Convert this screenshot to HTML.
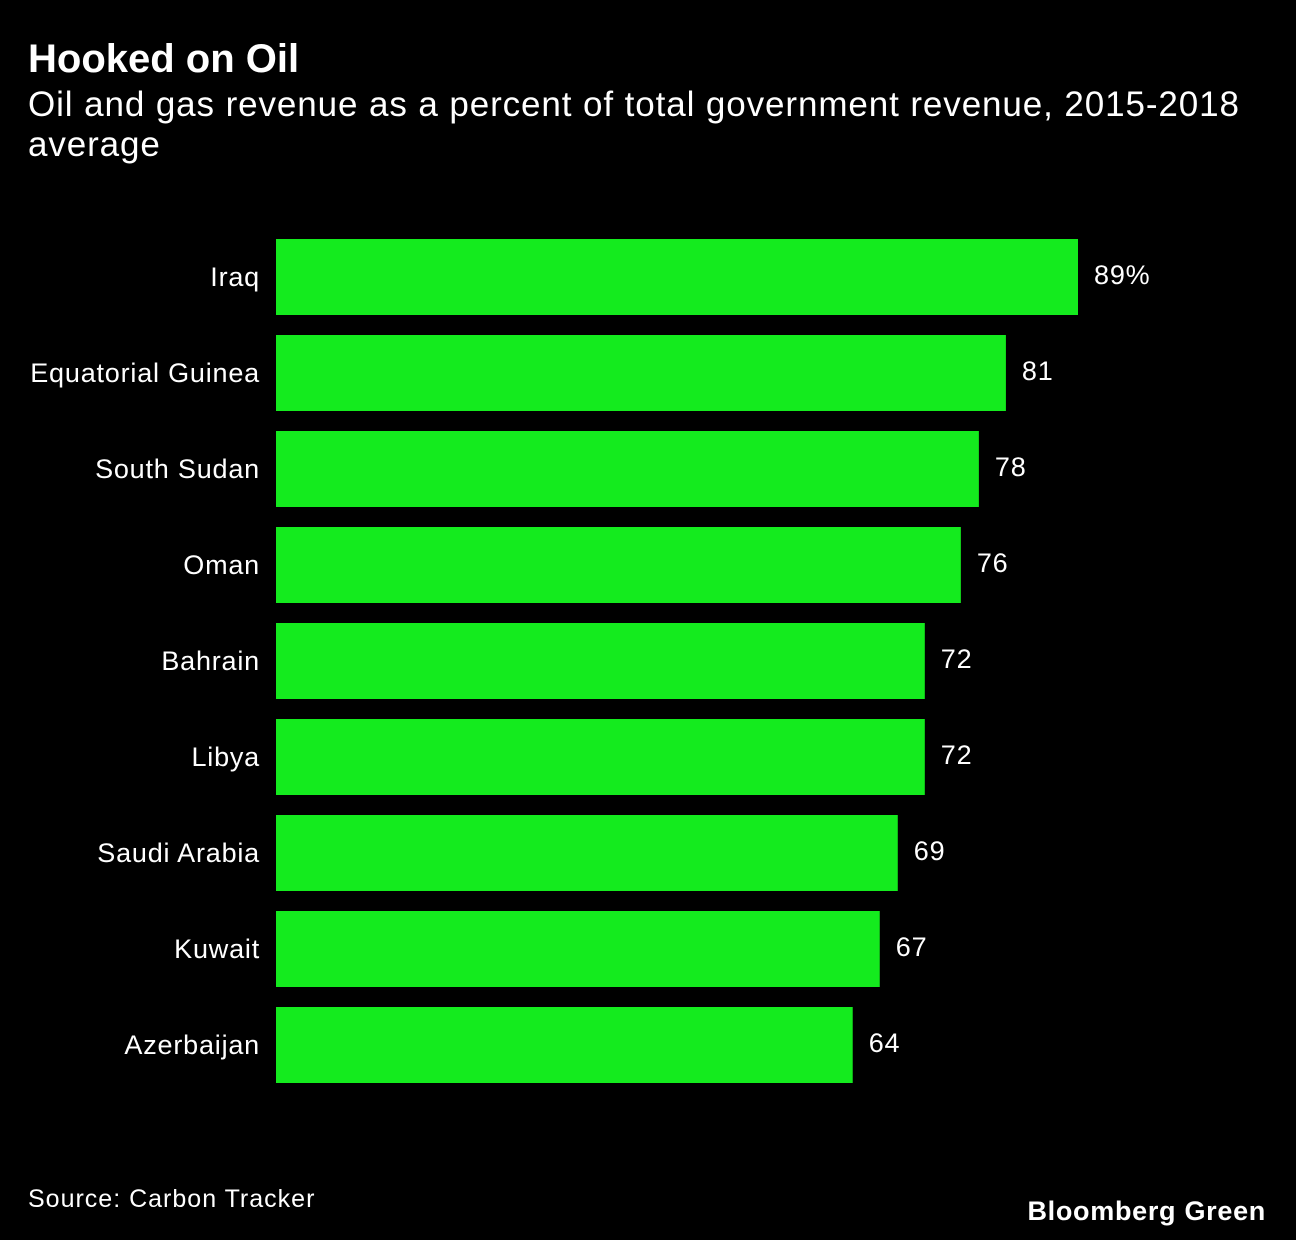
<!DOCTYPE html>
<html><head><meta charset="utf-8">
<style>
html,body{margin:0;padding:0;background:#000;}
body{width:1296px;height:1240px;position:relative;overflow:hidden;font-family:"Liberation Sans",sans-serif;color:#fff;}
.t{position:absolute;white-space:nowrap;}
</style></head><body>
<div class="t" style="left:28px;top:37px;font-size:40px;font-weight:bold;letter-spacing:0px">Hooked on Oil</div>
<div class="t" style="left:28px;top:85px;font-size:35px;line-height:40px;letter-spacing:0.9px;white-space:normal;width:1250px">Oil and gas revenue as a percent of total government revenue, 2015-2018 average</div>
<svg id="chart" width="1296" height="1240" style="position:absolute;left:0;top:0"></svg>
<div class="t" style="left:28px;top:1185px;font-size:25px;letter-spacing:1px">Source: Carbon Tracker</div>
<div class="t" style="right:30px;top:1196px;font-size:27px;font-weight:bold;letter-spacing:0.7px">Bloomberg Green</div>
<script>
const categories=["Iraq","Equatorial Guinea","South Sudan","Oman","Bahrain","Libya","Saudi Arabia","Kuwait","Azerbaijan"];
const values=[89,81,78,76,72,72,69,67,64];
const valueLabels=["89%","81","78","76","72","72","69","67","64"];
const svg=document.getElementById('chart');
const NS='http://www.w3.org/2000/svg';
const x0=276, pxPer=802/89;
function xScale(v){return x0+v*pxPer;}
function yScale(i){return 239+i*96;}
const bh=76;
categories.forEach((c,i)=>{
  const y=yScale(i);
  const r=document.createElementNS(NS,'rect');
  r.setAttribute('x',x0);r.setAttribute('y',y);
  r.setAttribute('width',xScale(values[i])-x0);r.setAttribute('height',bh);
  r.setAttribute('fill','#14eb1e');
  
  
  svg.appendChild(r);
  const l=document.createElementNS(NS,'text');
  l.setAttribute('x',260);l.setAttribute('y',y+bh/2+9);
  l.setAttribute('text-anchor','end');l.setAttribute('fill','#fff');
  l.setAttribute('font-size','27');l.setAttribute('letter-spacing','0.8');
  l.setAttribute('font-family','Liberation Sans, sans-serif');
  l.textContent=c;
  
  
  svg.appendChild(l);
  const v=document.createElementNS(NS,'text');
  v.setAttribute('x',xScale(values[i])+16);v.setAttribute('y',y+bh/2+7);
  v.setAttribute('fill','#fff');
  v.setAttribute('font-size','27');v.setAttribute('letter-spacing','0.8');
  v.setAttribute('font-family','Liberation Sans, sans-serif');
  v.textContent=valueLabels[i];
  
  
  svg.appendChild(v);
});
</script>
</body></html>
